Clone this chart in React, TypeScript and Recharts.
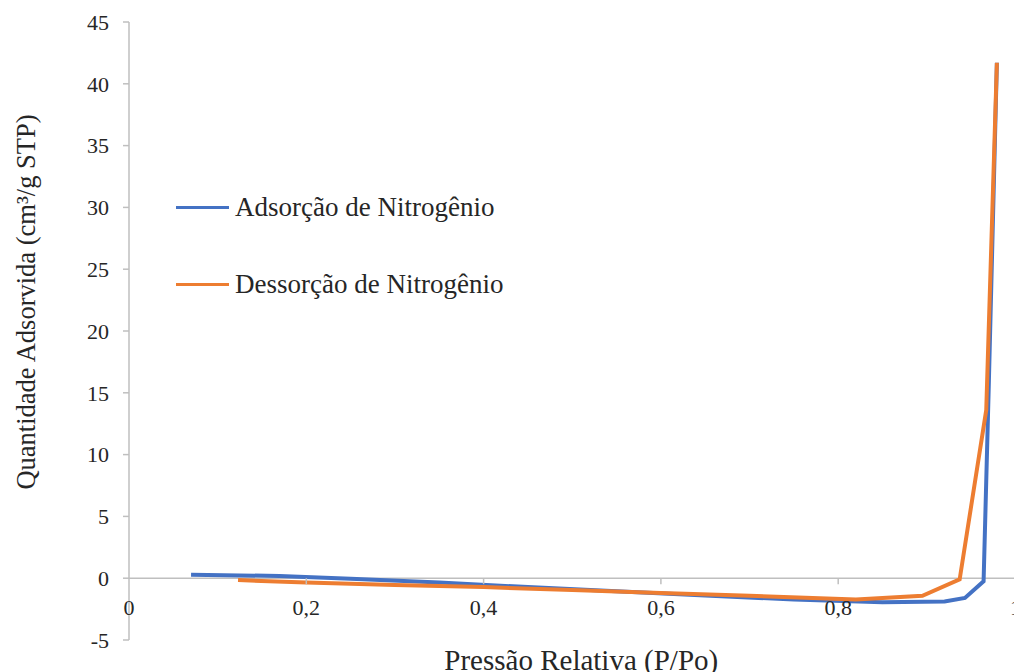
import { LineChart, Line, XAxis, YAxis, CartesianGrid, Legend, Label } from "recharts";

// Relative pressure (P/Po) and adsorbed volume (cm³/g STP) for each branch
const ADS_P = [0.07, 0.17, 0.25, 0.35, 0.45, 0.55, 0.65, 0.75, 0.85, 0.92, 0.943, 0.964, 0.97, 0.979];
const ADS_Q = [0.28, 0.18, -0.05, -0.35, -0.72, -1.05, -1.4, -1.72, -1.95, -1.88, -1.6, -0.25, 16, 41.7];

const DES_P = [0.123, 0.2, 0.3, 0.4, 0.5, 0.6, 0.7, 0.82, 0.895, 0.937, 0.967, 0.979];
const DES_Q = [-0.15, -0.35, -0.55, -0.72, -0.95, -1.2, -1.42, -1.72, -1.42, -0.1, 13.6, 41.7];

const X_TICKS = [0, 0.2, 0.4, 0.6, 0.8, 1];
const Y_TICKS = [-5, 0, 5, 10, 15, 20, 25, 30, 35, 40, 45];

const SERIES = [
  { name: "Adsorção de Nitrogênio", color: "#4472C4", p: ADS_P, q: ADS_Q },
  { name: "Dessorção de Nitrogênio", color: "#ED7D31", p: DES_P, q: DES_Q },
];

const FONT = '"Liberation Serif", "Times New Roman", serif';
const AXIS = "#BFBFBF";
const TEXT = "#262626";

const WIDTH = 1040;
const HEIGHT = 672;
const MARGIN = { top: 22, right: 24.5, bottom: 0, left: 0 };
const X_AXIS_H = 32;
const PLOT_H = HEIGHT - MARGIN.top - MARGIN.bottom - X_AXIS_H;
const Y_MIN = Y_TICKS[0];
const Y_MAX = Y_TICKS[Y_TICKS.length - 1];
// distance from the bottom of the plot up to the zero line
const ZERO_SHIFT = (PLOT_H * (0 - Y_MIN)) / (Y_MAX - Y_MIN);

const fmt = (v: number) => String(v).replace(".", ",");

function XTick({ x, y, payload }: { x?: number; y?: number; payload?: { value: number } }) {
  const y0 = (y ?? 0) - ZERO_SHIFT;
  const v = payload?.value ?? 0;
  return (
    <g>
      {v > 0 && v < 1 && <line x1={x} x2={x} y1={y0} y2={y0 + 6} stroke={AXIS} strokeWidth={1.5} />}
      <text x={x} y={y0 + 37} textAnchor="middle" fontSize={22} fontFamily={FONT} fill={TEXT}>
        {fmt(v)}
      </text>
    </g>
  );
}

function LegendBox() {
  return (
    <div style={{ fontFamily: FONT, fontSize: 27, color: TEXT }}>
      {SERIES.map((s, i) => (
        <div
          key={s.name}
          style={{ display: "flex", alignItems: "center", height: 30, marginTop: i ? 47 : 0 }}
        >
          <span style={{ display: "inline-block", width: 53, height: 3, background: s.color, marginRight: 6 }} />
          <span>{s.name}</span>
        </div>
      ))}
    </div>
  );
}

export default function App() {
  const data = SERIES.map((s) => s.p.map((p, i) => ({ p, q: s.q[i] })));
  return (
    <div style={{ position: "fixed", left: 0, top: 0, width: 1014, height: 672, overflow: "hidden", background: "#fff" }}>
      <LineChart width={WIDTH} height={HEIGHT} margin={MARGIN}>
        <CartesianGrid horizontal vertical={false} horizontalValues={[0]} stroke={AXIS} strokeWidth={1.5} />
        <XAxis
          dataKey="p"
          type="number"
          domain={[0, 1]}
          ticks={X_TICKS}
          height={X_AXIS_H}
          axisLine={false}
          tickLine={false}
          tickSize={0}
          tickMargin={0}
          tick={<XTick />}
          interval={0}
          allowDataOverflow
        >
          <Label
            content={({ viewBox }: any) => (
              <text
                x={viewBox.x + viewBox.width / 2 + 9}
                y={viewBox.y + 30}
                textAnchor="middle"
                fontSize={29}
                fontFamily={FONT}
                fill={TEXT}
              >
                Pressão Relativa (P/Po)
              </text>
            )}
          />
        </XAxis>
        <YAxis
          type="number"
          domain={[Y_MIN, Y_MAX]}
          ticks={Y_TICKS}
          width={129}
          axisLine={{ stroke: AXIS, strokeWidth: 1.5 }}
          tickLine={{ stroke: AXIS, strokeWidth: 1.5 }}
          tickSize={6}
          tickMargin={14}
          tick={{ fontSize: 22, fontFamily: FONT, fill: TEXT }}
          interval={0}
        >
          <Label
            content={() => (
              <text
                x={35}
                y={302}
                transform="rotate(-90, 35, 302)"
                textAnchor="middle"
                fontSize={26.5}
                fontFamily={FONT}
                fill={TEXT}
              >
                Quantidade Adsorvida (cm³/g STP)
              </text>
            )}
          />
        </YAxis>
        <Legend
          content={<LegendBox />}
          layout="horizontal"
          verticalAlign="middle"
          align="center"
          wrapperStyle={{ left: 176, top: 192, width: "auto" }}
        />
        {SERIES.map((s, i) => (
          <Line
            key={s.name}
            data={data[i]}
            dataKey="q"
            name={s.name}
            type="linear"
            stroke={s.color}
            strokeWidth={4}
            dot={false}
            activeDot={false}
            isAnimationActive={false}
          />
        ))}
      </LineChart>
    </div>
  );
}
